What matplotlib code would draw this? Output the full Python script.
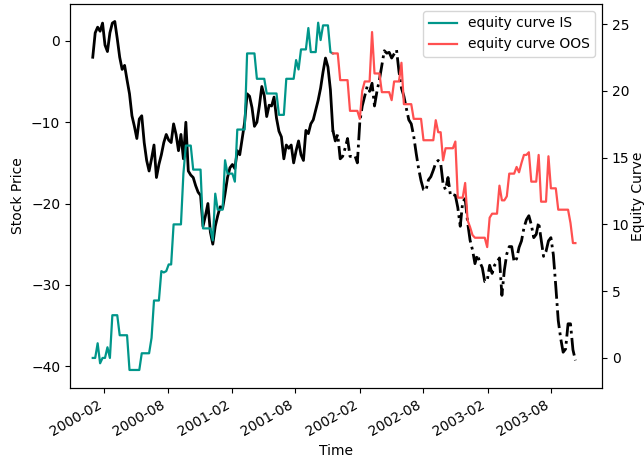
import numpy as np
import pandas as pd
import matplotlib
matplotlib.use("Agg")
import matplotlib.pyplot as plt
import matplotlib.dates as mdates

# weekly closes, first week ending 1999-12-31
start = "1999-12-31"
split = 98   # last in-sample week

stock = [-2.0, 1.0, 1.7, 1.2, 2.2, -0.5, -1.3, 1.0, 2.2, 2.4,
         0.3, -2.0, -3.5, -3.0, -4.8, -6.5, -9.2, -10.5, -12.0, -9.6,
         -9.2, -12.5, -14.7, -16.0, -14.5, -12.8, -16.8, -15.2, -14.0, -12.5,
         -11.5, -12.2, -12.5, -10.2, -11.5, -13.5, -11.5, -14.5, -10.0, -16.0,
         -16.5, -16.8, -17.8, -18.6, -19.0, -22.8, -21.5, -20.0, -23.5, -25.0,
         -22.8, -21.5, -20.4, -20.6, -18.8, -16.8, -15.6, -15.2, -15.7, -13.5,
         -14.0, -12.0, -10.0, -6.5, -6.8, -8.2, -10.5, -10.0, -8.0, -5.6,
         -6.7, -9.3, -7.9, -8.0, -6.9, -9.5, -11.1, -11.8, -14.5, -12.8,
         -13.2, -12.8, -15.0, -13.5, -12.3, -14.0, -14.7, -11.0, -11.4, -10.2,
         -9.7, -8.5, -7.3, -5.8, -3.8, -2.1, -3.2, -6.0, -11.0, -12.3,
         -11.5, -14.5, -14.2, -13.2, -12.0, -14.2, -14.2, -14.1, -15.0, -10.0,
         -8.0, -6.8, -5.6, -6.2, -5.2, -8.0, -6.2, -4.8, -3.0, -1.2,
         -1.5, -1.4, -2.1, -1.6, -1.1, -3.8, -5.8, -6.8, -8.3, -9.7,
         -10.2, -11.7, -13.8, -15.7, -17.2, -18.3, -18.4, -17.1, -16.7, -15.9,
         -15.0, -14.7, -15.0, -17.6, -18.3, -16.8, -19.0, -18.9, -19.0, -20.5,
         -22.8, -19.8, -19.4, -22.3, -24.5, -25.7, -27.4, -26.3, -27.2, -27.9,
         -29.6, -29.5, -27.6, -28.6, -27.6, -27.2, -26.7, -31.3, -28.2, -26.2,
         -25.3, -25.3, -27.2, -26.8, -25.4, -24.6, -23.0, -22.0, -21.5, -22.6,
         -24.2, -23.8, -22.3, -24.4, -26.5, -25.9, -24.6, -24.2, -26.3, -30.2,
         -34.4, -36.6, -38.3, -37.9, -34.8, -34.8, -38.0, -39.3]

equity = [0.0, 0.0, 1.1, -0.4, 0.0, 0.0, 0.8, 0.0, 3.2, 3.2,
          3.2, 1.7, 1.7, 1.7, 1.7, -0.9, -0.9, -0.9, -0.9, -0.9,
          0.35, 0.35, 0.35, 0.35, 1.5, 4.3, 4.3, 4.3, 6.5, 6.4,
          6.5, 7.0, 7.0, 10.0, 10.0, 10.0, 10.0, 13.8, 15.9, 15.9,
          15.9, 14.1, 14.1, 14.1, 14.1, 9.7, 9.7, 9.7, 9.7, 8.8,
          12.3, 11.1, 11.1, 11.1, 14.8, 13.8, 13.8, 13.8, 13.2, 17.1,
          17.1, 17.1, 17.1, 22.8, 22.8, 22.8, 22.8, 20.9, 20.9, 20.9,
          20.9, 19.8, 19.8, 19.8, 19.8, 19.8, 18.2, 18.2, 18.2, 20.9,
          20.9, 20.9, 20.9, 22.3, 21.6, 23.1, 23.1, 23.1, 24.7, 22.9,
          22.9, 22.9, 25.1, 23.8, 24.9, 24.9, 24.9, 22.9, 22.8, 22.8,
          22.8, 20.8, 20.8, 20.8, 20.8, 18.5, 18.5, 18.5, 18.5, 17.9,
          20.0, 20.7, 20.7, 20.7, 24.4, 21.3, 21.3, 21.3, 19.9, 19.9,
          19.9, 19.9, 19.3, 20.7, 20.7, 20.7, 22.1, 19.0, 19.0, 19.0,
          19.0, 17.9, 17.9, 17.9, 17.9, 16.3, 16.3, 16.3, 16.3, 16.3,
          17.8, 16.9, 16.9, 14.8, 15.7, 15.7, 15.7, 15.7, 16.2, 12.0,
          12.0, 12.0, 13.1, 10.3, 9.8, 9.2, 9.0, 9.0, 9.0, 9.0,
          9.0, 8.3, 10.5, 10.8, 10.8, 10.8, 12.9, 11.8, 11.8, 12.1,
          13.8, 13.8, 13.8, 14.3, 13.9, 14.6, 15.2, 15.2, 15.4, 13.2,
          13.2, 13.2, 15.2, 11.7, 11.7, 11.7, 15.1, 12.7, 12.7, 12.7,
          11.1, 11.1, 11.1, 11.1, 11.1, 10.1, 8.6, 8.6]

dates = pd.date_range(start, periods=len(stock), freq="W-FRI")

fig, ax = plt.subplots(figsize=(6.44, 4.66), dpi=100)
ax2 = ax.twinx()

ax.plot(dates[:split + 1], stock[:split + 1], color="black", lw=2.0)
ax.plot(dates[split:], stock[split:], color="black", lw=2.0, ls="-.")

ax2.plot(dates[:split + 1], equity[:split + 1], color="#00968a", lw=1.6,
         label="equity curve IS")
ax2.plot(dates[split:], equity[split:], color="#ff5050", lw=1.6,
         label="equity curve OOS")

ax.set_xlim(pd.Timestamp("1999-10-27"), pd.Timestamp("2003-12-25"))
ax.set_ylim(-42.7, 4.55)
ax2.set_ylim(-2.25, 26.5)
ax.set_yticks([-40, -30, -20, -10, 0])
ax2.set_yticks([0, 5, 10, 15, 20, 25])

ax.xaxis.set_major_locator(mdates.MonthLocator(bymonth=[2, 8]))
ax.xaxis.set_major_formatter(mdates.DateFormatter("%Y-%m"))
for lab in ax.get_xticklabels():
    lab.set_rotation(30)
    lab.set_ha("right")

ax.set_xlabel("Time")
ax.set_ylabel("Stock Price")
ax2.set_ylabel("Equity Curve", labelpad=1)
ax2.legend(loc="upper right")

fig.subplots_adjust(left=70 / 644, right=602 / 644, bottom=1 - 388 / 466, top=1 - 4 / 466)
fig.savefig("out.png", dpi=100)
